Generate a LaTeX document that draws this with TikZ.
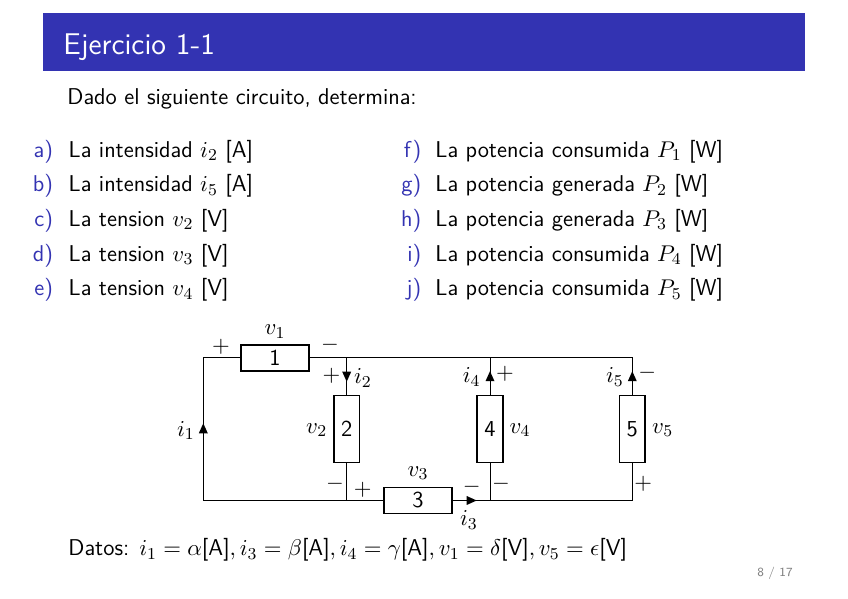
\documentclass[tikz,border=0pt]{standalone}
\usepackage{fontspec}
\definecolor{struct}{rgb}{0.2,0.2,0.7}
\def\u{0.481pt}
\newcommand\cktarrup[1]{\fill (#1) ++(-4.5,5) -- ++(9,0) -- ++(-4.5,-10) -- cycle;}
\newcommand\cktarrdown[1]{\fill (#1) ++(-4.5,-5) -- ++(9,0) -- ++(-4.5,10) -- cycle;}
\newcommand\cktarrright[1]{\fill (#1) ++(-5,-4.5) -- ++(0,9) -- ++(10,-4.5) -- cycle;}
\tikzset{
  every node/.style={font=\fontsize{11}{13.6}\selectfont},
  wire/.style={line width=0.45pt},
  res/.style={draw,line width=0.8pt,fill=white,inner sep=0pt,font=\sffamily\fontsize{11}{13.6}\selectfont},
  hres/.style={res,minimum width=68*\u,minimum height=26*\u},
  vres/.style={res,minimum width=25.5*\u,minimum height=67*\u},
  lbl/.style={inner sep=0pt},
  txt/.style={inner sep=0pt,font=\sffamily\fontsize{11}{13.6}\selectfont,anchor=base west},
  itm/.style={inner sep=0pt,font=\sffamily\fontsize{11}{13.6}\selectfont,anchor=base east,text=struct},
}
\begin{document}
\begin{tikzpicture}[x=\u,y=-\u]
\useasboundingbox (0,0) rectangle (848,599);
% title bar
\fill[struct] (42.7,13.3) rectangle (805,71);
\node[inner sep=0pt,anchor=base west,text=white,font=\sffamily\fontsize{14.4}{17}\selectfont] (title) at (63,55) {Ejercicio 1-1};
\node[txt] (intro) at (67,104.5) {Dado el siguiente circuito, determina:};
% list left
\foreach \lab/\t [count=\k from 0] in {a)/{La intensidad $i_2$ [A]},b)/{La intensidad $i_5$ [A]},c)/{La tension $v_2$ [V]},d)/{La tension $v_3$ [V]},e)/{La tension $v_4$ [V]}}{
  \node[itm] (la\k) at (53.5,157.3+34.6*\k) {\lab};
  \node[txt] (lt\k) at (68.3,157.3+34.6*\k) {\t};
}
\foreach \lab/\t [count=\k from 0] in {f)/{La potencia consumida $P_1$ [W]},g)/{La potencia generada $P_2$ [W]},h)/{La potencia generada $P_3$ [W]},i)/{La potencia consumida $P_4$ [W]},j)/{La potencia consumida $P_5$ [W]}}{
  \node[itm] (ra\k) at (421.7,157.3+34.6*\k) {\lab};
  \node[txt] (rt\k) at (435,157.3+34.6*\k) {\t};
}
% circuit coordinates
\coordinate (TL) at (203.3,357.7);
\coordinate (BL) at (203.3,500.5);
\coordinate (A) at (346.7,357.7);
\coordinate (B) at (346.7,500.5);
\coordinate (T4) at (490,357.7);
\coordinate (B4) at (490,500.5);
\coordinate (TR) at (632.3,357.7);
\coordinate (BR) at (632.3,500.5);
% resistors
\node[hres] (R1) at (275,357.7) {1};
\node[vres] (R2) at (346.7,429) {2};
\node[hres] (R3) at (418,500.5) {3};
\node[vres] (R4) at (490,429) {4};
\node[vres] (R5) at (632.3,429) {5};
% wires
\draw[wire] (R1.east) -- (A) -- (T4) -- (TR) -- (R5.north);
\draw[wire] (R1.west) -- (TL) -- (BL) -- (B) -- (R3.west);
\draw[wire] (A) -- (R2.north);
\draw[wire] (R2.south) -- (B);
\draw[wire] (R3.east) -- (B4) -- (BR) -- (R5.south);
\draw[wire] (T4) -- (R4.north);
\draw[wire] (R4.south) -- (B4);
% current arrows
\coordinate (ai1) at (203.3,428.3);
\coordinate (ai2) at (346.7,376.7);
\coordinate (ai3) at (471.7,500.5);
\coordinate (ai4) at (490,376.2);
\coordinate (ai5) at (632.3,376.2);
\cktarrup{ai1}
\cktarrdown{ai2}
\cktarrright{ai3}
\cktarrup{ai4}
\cktarrup{ai5}
% labels
\node[lbl] (v1) at (275,331.5) {$v_1$};
\node[lbl] (p1) at (221,347) {$+$};
\node[lbl] (m1) at (330,345) {$-$};
\node[lbl] (i2) at (363,378) {$i_2$};
\node[lbl] (p2) at (331.5,376) {$+$};
\node[lbl] (v2) at (316.7,430) {$v_2$};
\node[lbl] (i1) at (186,430.5) {$i_1$};
\node[lbl] (m2) at (335,484) {$-$};
\node[lbl] (p3) at (362.7,490) {$+$};
\node[lbl] (v3) at (418,473) {$v_3$};
\node[lbl] (m3) at (471.7,487) {$-$};
\node[lbl] (i3) at (469,520) {$i_3$};
\node[lbl] (i4) at (471.7,377) {$i_4$};
\node[lbl] (p4) at (505,374) {$+$};
\node[lbl] (v4) at (520,430) {$v_4$};
\node[lbl] (v5) at (662.7,430) {$v_5$};
\node[lbl] (i5) at (615,377) {$i_5$};
\node[lbl] (m5) at (647.3,373) {$-$};
\node[lbl] (m4) at (501,484) {$-$};
\node[lbl] (p5) at (643.3,484) {$+$};
% data
\node[txt] (datos) at (68,556) {Datos: $i_1=\alpha$[A]$,i_3=\beta$[A]$,i_4=\gamma$[A]$,v_1=\delta$[V]$,v_5=\epsilon$[V]};
\node[inner sep=0pt,font=\sffamily\fontsize{6}{7}\selectfont,text=black!50] (pg) at (775,573) {8 / 17};
\end{tikzpicture}
\end{document}
